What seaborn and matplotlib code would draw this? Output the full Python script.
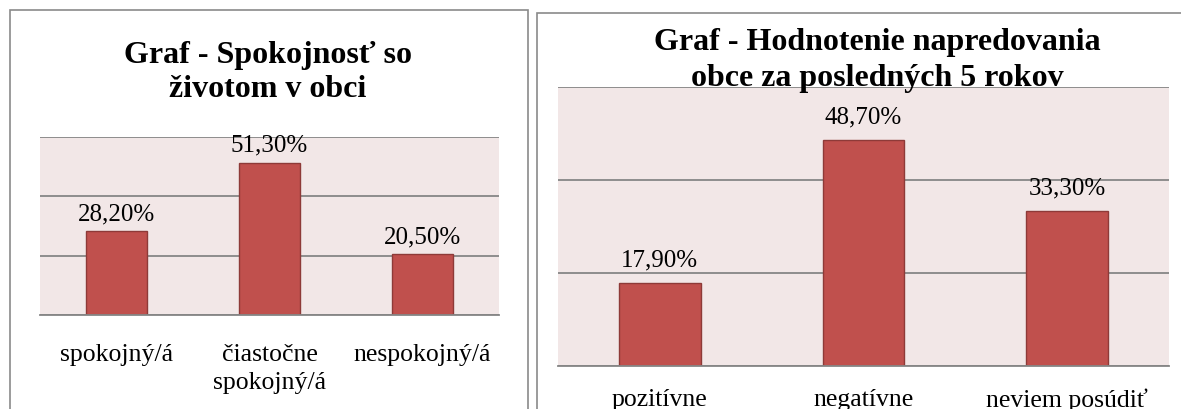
import matplotlib
matplotlib.use("Agg")
import matplotlib.pyplot as plt
from matplotlib.patches import Rectangle
import seaborn as sns
import pandas as pd

# ---- data ----
left_title = "Graf - Spokojnosť so\nživotom v obci"
left_categories = ["spokojný/á", "čiastočne\nspokojný/á", "nespokojný/á"]
left_values = [28.2, 51.3, 20.5]
left_labels = ["28,20%", "51,30%", "20,50%"]

right_title = "Graf - Hodnotenie napredovania\nobce za posledných 5 rokov"
right_categories = ["pozitívne", "negatívne", "neviem posúdiť"]
right_values = [17.9, 48.7, 33.3]
right_labels = ["17,90%", "48,70%", "33,30%"]

y_ticks = [0, 20, 40, 60]

# ---- style ----
sns.set_style("white")
plt.rcParams["font.family"] = ["Liberation Serif", "DejaVu Serif"]
plt.rcParams["text.color"] = "black"
plt.rcParams["xtick.labelcolor"] = "black"

BAR = "#C0504D"
EDGE = "#8E3A38"
BG = "#F2E7E7"
GRID = "#868686"
BORDER = "#8A8A8A"

W, H = 1181, 410
fig = plt.figure(figsize=(W / 100, H / 100), dpi=100)


def px_axes(x0, x1, y0, y1):
    return fig.add_axes([x0 / W, (H - y1) / H, (x1 - x0) / W, (y1 - y0) / H])


def draw(ax, cats, vals, labels, label_pad, tick_pad):
    df = pd.DataFrame({"cat": cats, "val": vals})
    sns.barplot(data=df, x="cat", y="val", ax=ax, width=0.4, color=BAR,
                saturation=1, edgecolor=EDGE, linewidth=1.0)
    ax.set_facecolor(BG)
    ax.set_xlim(-0.5, len(cats) - 0.5)
    ax.set_ylim(y_ticks[0], y_ticks[-1])
    ax.set_yticks(y_ticks)
    ax.yaxis.grid(True, color=GRID, linewidth=1.3)
    ax.xaxis.grid(False)
    ax.set_axisbelow(True)
    ax.tick_params(axis="y", left=False, labelleft=False)
    for s in ["left", "right", "top"]:
        ax.spines[s].set_visible(False)
    ax.spines["bottom"].set_color(GRID)
    ax.spines["bottom"].set_linewidth(1.3)
    ax.set_xticks(range(len(cats)))
    ax.set_xticklabels(cats, fontsize=18.5, linespacing=1.3, color="black")
    ax.tick_params(axis="x", which="major", length=0, pad=tick_pad)
    ax.set_xticks([i - 0.5 for i in range(len(cats) + 1)], minor=True)
    ax.tick_params(axis="x", which="minor", length=6, width=1.3, color=GRID, direction="out")
    ax.set_xlabel("")
    ax.set_ylabel("")
    ax.bar_label(ax.containers[0], labels=labels, padding=label_pad,
                 fontsize=18, color="black")


# left chart
axL = px_axes(40, 499, 138, 316)
draw(axL, left_categories, left_values, left_labels, 5, 20.5)
# right chart
axR = px_axes(558, 1169, 88, 367)
draw(axR, right_categories, right_values, right_labels, 9, 15.5)

# titles
fig.text(268 / W, (H - 97) / H, left_title, ha="center", va="baseline",
         fontsize=23, fontweight="bold", linespacing=1.25, color="black")
fig.text(877 / W, (H - 86) / H, right_title, ha="center", va="baseline",
         fontsize=23, fontweight="bold", linespacing=1.3, color="black")

# chart borders
fig.patches.append(Rectangle((10 / W, -0.1), (528 - 10) / W, (H - 11) / H + 0.1,
                             transform=fig.transFigure, fill=False,
                             edgecolor=BORDER, linewidth=1.2))
fig.patches.append(Rectangle((537 / W, -0.1), 0.6, (H - 14) / H + 0.1,
                             transform=fig.transFigure, fill=False,
                             edgecolor=BORDER, linewidth=1.2))

fig.savefig("out.png", dpi=100, facecolor="white")
